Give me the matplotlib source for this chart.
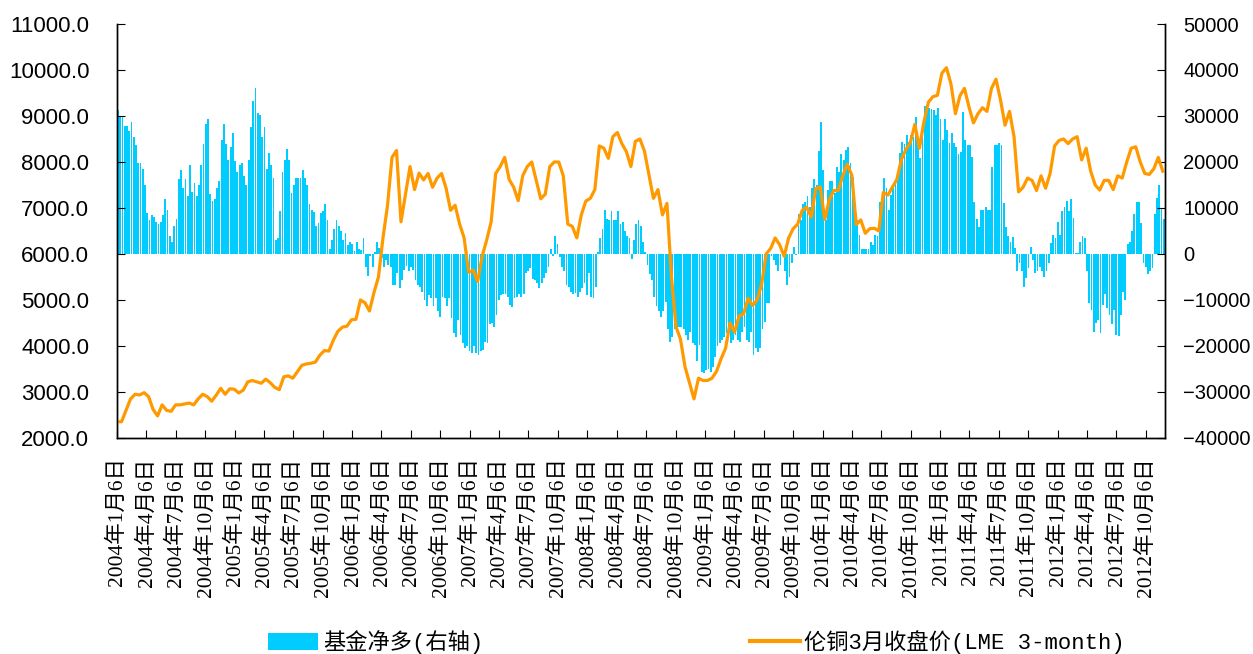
import numpy as np
import pandas as pd
import matplotlib
matplotlib.use('Agg')
import matplotlib.pyplot as plt
from matplotlib.patches import Patch
from matplotlib.lines import Line2D
from matplotlib.ticker import FormatStrFormatter

# fund net long position, thousand contracts, weekly from 2004-01-06 (right axis)
fund_net_long_k = [
    31.3, 29.9, 29.9, 27.8, 27.8, 26.7, 28.7, 25.4, 23.7, 19.7,
    19.7, 18.5, 14.9, 9.0, 7.4, 8.5, 8.0, 7.0, 6.5, 7.0,
    8.5, 12.0, 9.6, 3.9, 2.7, 6.1, 7.6, 16.3, 18.3, 14.4,
    16.3, 12.5, 19.4, 13.5, 15.4, 12.5, 15.0, 19.4, 24.0, 28.3,
    29.4, 13.0, 11.5, 12.0, 14.4, 15.9, 24.8, 28.3, 23.9, 20.4,
    23.3, 26.2, 20.2, 17.8, 19.4, 19.7, 17.0, 14.9, 20.4, 27.5,
    33.3, 36.1, 30.6, 30.2, 25.5, 27.5, 18.5, 22.0, 19.4, 16.6,
    3.0, 3.4, 9.4, 17.8, 20.4, 22.8, 20.4,
    # 2005-06 .. 2006-12
    13.2, 15.0, 16.5, 16.5, 16.5, 18.3, 16.5, 14.9, 10.9, 9.6,
    9.2, 6.1, 6.7, 9.0, 9.3, 10.9, 7.4, 1.0, 3.0, 5.4,
    7.4, 6.1, 5.1, 3.0, 4.6, 2.0, 2.7, 2.2, 0.7, 2.6,
    1.0, 0.9, 3.4, -2.8, -4.7, -0.5, -2.8, 0.4, 2.7, 1.4,
    -0.9, -2.8, -1.3, -2.4, -2.8, -6.7, -6.7, -4.2, -7.5, -5.7,
    -3.5, -2.6, -3.8, -2.8, -3.5, -5.7, -6.7, -7.1, -8.2, -10.0,
    -11.2, -8.9, -9.6, -11.2, -9.6, -12.5, -13.6, -9.3, -9.6,
    -11.2, -9.6, -14.0, -17.2, -18.1, -14.3, -17.7,
    # 2007-01 .. 2008-05
    -19.4, -20.5, -20.1, -21.0, -21.6, -20.1, -21.6, -22.0, -21.0, -20.9,
    -19.1, -19.4, -15.2, -15.1, -15.9, -13.3, -10.1, -8.9, -8.6, -8.6,
    -9.3, -11.1, -11.6, -9.6, -9.3, -8.7, -9.3, -8.6, -4.2, -3.8,
    -3.1, -5.5, -5.7, -6.4, -7.3, -6.4, -5.3, -4.2, -2.8, 1.0,
    -0.5, 3.9, 2.2, -0.7, -2.8, -3.6, -6.7, -7.1, -8.2, -8.7,
    -8.4, -9.3, -8.2, -7.3, -6.4, -8.9, -4.2, -9.3, -9.6, -7.1,
    0.5, 3.4, 5.4, 9.6, 7.5, 7.4, 9.3, 7.4, 7.4, 9.3,
    6.5, 6.9, 5.1, 3.9, 3.4,
    # 2008-05 .. 2009-10
    -1.0, 3.0, 6.5, 7.4, 6.1, 2.7, 0.4, -2.4, -4.4, -5.6,
    -9.3, -11.2, -12.5, -13.6, -12.5, -10.4, -16.2, -19.1, -18.0, -16.2,
    -16.2, -15.8, -15.8, -16.2, -17.6, -18.7, -16.9, -19.4, -19.8, -23.2,
    -19.8, -25.6, -25.9, -25.2, -24.9, -25.7, -24.5, -22.3, -20.1, -19.4,
    -18.7, -18.0, -17.1, -16.2, -19.4, -18.6, -17.6, -18.7, -19.1, -16.9,
    -15.8, -18.7, -19.1, -16.9, -22.0, -20.5, -21.4, -20.5, -16.2, -14.7,
    -10.7, -10.6, -0.5, -1.4, -2.4, -3.8, -2.4, -0.2, -3.8, -6.7,
    -5.1, -1.9, 1.6, -0.2, 8.7, 7.4,
    # 2009-10 .. 2011-03
    10.9, 11.4, 12.5, 10.3, 14.3, 16.3, 15.0, 22.4, 28.7, 18.3,
    7.4, 13.9, 15.9, 15.9, 13.2, 19.0, 17.9, 21.7, 20.4, 22.6,
    23.3, 19.7, 16.8, 10.4, 7.4, 4.1, 1.0, 1.0, 1.0, 1.0,
    2.7, 2.0, 4.1, 3.9, 11.2, 11.9, 16.5, 14.3, 9.6, 12.8,
    14.6, 16.2, 17.5, 21.9, 24.4, 23.9, 25.9, 24.4, 25.9, 25.5,
    29.7, 23.8, 20.9, 26.2, 32.2, 32.2, 31.7, 31.5, 31.3, 30.2,
    31.7, 29.3, 24.8, 29.3, 27.0, 24.1, 26.2, 24.1, 23.3, 21.7,
    22.2, 30.9,
    # 2011-03 .. 2012-12
    24.8, 23.7, 23.7, 21.0, 11.4, 7.5, 5.9, 9.6, 9.6, 10.3,
    9.6, 9.6, 19.0, 23.7, 23.7, 24.2, 23.7, 11.0, 5.9, 3.9,
    2.7, 3.6, 1.4, -3.6, -2.0, -3.6, -7.2, -5.3, -3.1, 1.6,
    -1.2, -4.2, -3.6, -2.8, -3.6, -5.1, -3.8, -1.9, 2.3, 4.1,
    3.4, 7.0, 4.1, 9.4, 10.3, 11.5, 9.4, 12.0, 7.8, 0.3,
    0.2, 2.5, 3.9, 3.4, -3.8, -10.6, -12.2, -17.0, -15.1, -14.3,
    -17.1, -11.1, -8.6, -11.8, -13.3, -15.2, -12.2, -17.6, -17.8, -13.3,
    -8.2, -10.1, 2.2, 2.5, 5.1, 8.8, 11.4, 11.4, 6.7, -1.9,
    -2.8, -4.4, -3.6, -3.1, 8.8, 12.1, 15.0, 10.0, 7.6,
]

# LME 3-month copper close, USD/t, every second week from 2004-01-06 (left axis)
lme_copper_3m = [
    2354, 2354, 2600, 2850, 2950, 2935, 2985, 2900, 2620, 2480,
    2720, 2600, 2580, 2720, 2720, 2740, 2760, 2720, 2850, 2950,
    2900, 2800, 2930, 3080, 2950, 3070, 3060, 2980, 3040, 3220,
    3250, 3220, 3190, 3280, 3200, 3100, 3050, 3330, 3350,
    3300, 3440, 3580, 3610, 3624, 3650, 3800, 3900, 3890, 4130,
    4320, 4410, 4430, 4570, 4580, 5000, 4940, 4760, 5160, 5500,
    6350, 7050, 8100, 8250, 6700, 7300, 7900, 7400, 7760, 7610,
    7750, 7450, 7650, 7750, 7430, 6950, 7060, 6650,
    6350, 5600, 5650, 5400, 5950, 6300, 6700, 7750, 7900, 8100,
    7620, 7450, 7160, 7700, 7900, 8000, 7600, 7200, 7300, 7900,
    8000, 8000, 7700, 6650, 6600, 6350, 6850, 7150, 7210, 7400,
    8350, 8300, 8080, 8550, 8640, 8400, 8225,
    7900, 8450, 8500, 8240, 7730, 7210, 7400, 6850, 7100, 5500,
    4420, 4150, 3550, 3200, 2850, 3300, 3250, 3250, 3300, 3450,
    3720, 3950, 4500, 4300, 4650, 4700, 5040, 4880, 5000, 5340,
    6000, 6120, 6350, 6200, 5950, 6350, 6550, 6650,
    6950, 7020, 6800, 7420, 7460, 6750, 7175, 7380, 7380, 7700,
    7950, 7720, 6640, 6740, 6450, 6550, 6560, 6500, 7340, 7280,
    7450, 7620, 8050, 8270, 8420, 8820, 8300, 8870, 9300, 9420,
    9450, 9930, 10050, 9700, 9050, 9440, 9600,
    9200, 8850, 9050, 9180, 9100, 9600, 9800, 9350, 8800, 9100,
    8550, 7350, 7450, 7650, 7600, 7380, 7700, 7430, 7750, 8350,
    8470, 8500, 8400, 8500, 8550, 8045, 8300, 7800, 7500, 7390,
    7600, 7600, 7400, 7700, 7650, 8000, 8300, 8330, 8000, 7750,
    7730, 7850, 8100, 7800,
]

bar_label = '基金净多(右轴)'
line_label = '伦铜3月收盘价(LME 3-month)'

plt.rcParams['font.family'] = ['Liberation Sans', 'DejaVu Sans']
serif_cjk = ['Liberation Serif', 'Noto Sans CJK SC']
mono_cjk = ['Liberation Mono', 'Noto Sans CJK SC']

start = pd.Timestamp('2004-01-06')
bar_dates = pd.date_range(start, periods=len(fund_net_long_k), freq='7D')
line_dates = bar_dates[::2][:len(lme_copper_3m)]
tick_dates = pd.date_range(start, '2012-10-06', freq=pd.DateOffset(months=3))
tick_labels = [f'{d.year}年{d.month}月{d.day}日' for d in tick_dates]

fig = plt.figure(figsize=(12.53, 6.54), dpi=100)
ax = fig.add_axes([0.0934, 0.3303, 0.8364, 0.633])
ax2 = ax.twinx()

ax2.bar(bar_dates, np.array(fund_net_long_k) * 1000, width=5.6, align='edge',
        color='#00CCFF', linewidth=0)
ax.plot(line_dates, lme_copper_3m, color='#FF9900', lw=2.3)
ax.set_zorder(ax2.get_zorder() + 1)
ax.patch.set_visible(False)

ax.set_xlim(start, start + pd.Timedelta(days=3255))
ax.set_ylim(2000, 11000)
ax.set_yticks(np.arange(2000, 11001, 1000))
ax.yaxis.set_major_formatter(FormatStrFormatter('%.1f'))
ax2.set_ylim(-40000, 50000)
ax2.set_yticks(np.arange(-40000, 50001, 10000))

ax.set_xticks(tick_dates)
ax.set_xticklabels(tick_labels, rotation=90, family=serif_cjk, fontsize=15.5)

for a in (ax, ax2):
    a.spines['top'].set_visible(False)
    for s in a.spines.values():
        s.set_linewidth(1.0)
ax.tick_params(axis='y', direction='in', length=6, labelsize=16, pad=20)
ax.tick_params(axis='x', direction='in', length=6, pad=14)
ax2.tick_params(axis='y', direction='in', length=6, labelsize=14.5, pad=13)

handles = [Patch(facecolor='#00CCFF', edgecolor='none'),
           Line2D([], [], color='#FF9900', lw=3)]
fig.legend(handles, [bar_label, line_label], loc='center',
           bbox_to_anchor=(0.556, 0.018), ncol=2, frameon=False,
           prop={'family': mono_cjk, 'size': 16}, handlelength=2.25,
           handleheight=0.8, columnspacing=12.0, handletextpad=0.2)

fig.savefig('out.png', dpi=100)
